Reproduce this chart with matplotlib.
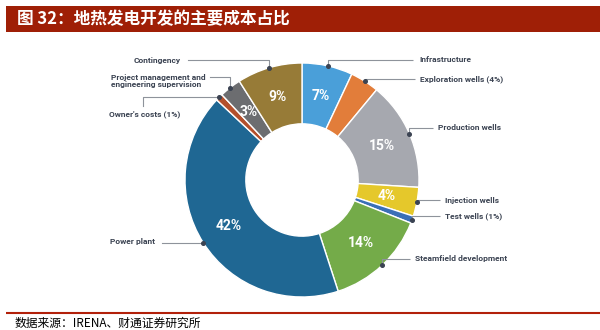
import numpy as np
import matplotlib
matplotlib.use("Agg")
import matplotlib.pyplot as plt
from matplotlib.patches import Rectangle

# ---- data ----
categories = ["Infrastructure", "Exploration wells (4%)", "Production wells",
              "Injection wells", "Test wells (1%)", "Steamfield development",
              "Power plant", "Owner's costs (1%)",
              "Project management and\nengineering supervision", "Contingency"]
shares = [7, 4, 15, 4, 1, 14, 42, 1, 3, 9]
show_pct = [True, False, True, True, False, True, True, False, True, True]
colors = ["#4A9FD9", "#E27D3A", "#A6A8AF", "#E5C82B", "#3A6FB6", "#74AB49",
          "#1F6793", "#B4502C", "#6C6D70", "#977B37"]
title = "图 32：地热发电开发的主要成本占比"
source = "数据来源：IRENA、财通证券研究所"

W, H = 600, 330
fig = plt.figure(figsize=(W / 100, H / 100), dpi=100)
fig.patch.set_facecolor("white")

# pie axes placed in pixel terms
cx, cy, R = 302, 180, 117
ax = fig.add_axes([(cx - R) / W, (H - cy - R) / H, 2 * R / W, 2 * R / H])
wedges, _, autotexts = ax.pie(
    shares, colors=colors, startangle=90, counterclock=False,
    radius=1.0, wedgeprops=dict(width=0.52, edgecolor="white", linewidth=1.0),
    autopct=lambda p: f"{p:.0f}%", pctdistance=0.74)
for t, s in zip(autotexts, show_pct):
    t.set_color("white")
    t.set_fontsize(10)
    t.set_fontweight("bold")
    t.set_fontfamily(["Roboto", "DejaVu Sans"])
    t.set_visible(s)
ax.set_xlim(-1, 1)
ax.set_ylim(-1, 1)
ax.set_aspect("equal")
ax.axis("off")

# overlay axes in pixel coordinates (y downward)
ov = fig.add_axes([0, 0, 1, 1], zorder=5)
ov.set_xlim(0, W)
ov.set_ylim(H, 0)
ov.axis("off")
ov.patch.set_alpha(0)

fig.canvas.draw()

def dot_px(i):
    w = wedges[i]
    ang = np.deg2rad((w.theta1 + w.theta2) / 2)
    p = ax.transData.transform((np.cos(ang), np.sin(ang)))
    return ov.transData.inverted().transform(p)

lc = "#8E939B"
dc = "#3B4352"
tc = "#3B4352"
fs = 6.0
ff = ["Roboto", "DejaVu Sans"]

def lbl(x, y, s, ha="left", va="center"):
    ov.text(x, y, s, ha=ha, va=va, fontsize=fs, color=tc, fontweight="bold",
            fontfamily=ff, linespacing=1.0)

# right-hand labels: (index, label y, line end x, text x)
right = [(0, 60, 413, 419), (1, 79, 415, 420), (2, 128, 433, 438),
         (3, 200, 440, 445), (4, 216, 440, 445), (5, 259, 410, 415)]
for i, ly, lx, tx in right:
    dx, dy = dot_px(i)
    ov.plot([dx, dx, lx], [dy, ly, ly], color=lc, lw=0.8, solid_capstyle="butt")
    ov.plot(dx, dy, "o", ms=2.6, color=dc)
    lbl(tx, ly, categories[i])

# Power plant
dx, dy = dot_px(6)
ov.plot([162, dx], [dy, dy], color=lc, lw=0.8)
ov.plot(dx, dy, "o", ms=2.6, color=dc)
lbl(155, dy - 1, categories[6], ha="right")

# Owner's costs
dx, dy = dot_px(7)
ov.plot([143, 143, dx], [106, dy, dy], color=lc, lw=0.8)
ov.plot(dx, dy, "o", ms=2.6, color=dc)
lbl(180, 114, categories[7], ha="right")

# Project management
dx, dy = dot_px(8)
ov.plot([210, dx, dx], [77, 77, dy], color=lc, lw=0.8)
ov.plot(dx, dy, "o", ms=2.6, color=dc)
lbl(111, 81, categories[8], ha="left")

# Contingency
dx, dy = dot_px(9)
ov.plot([188, dx, dx], [60, 60, dy], color=lc, lw=0.8)
ov.plot(dx, dy, "o", ms=2.6, color=dc)
lbl(181, 60, categories[9], ha="right")

# title bar
ov.add_patch(Rectangle((6, 5.5), W - 6, 26.5, facecolor="#9F1F06",
                       edgecolor="none"))
ov.text(17, 19, title, ha="left", va="center", fontsize=12, color="white",
        fontweight="bold", fontfamily=["Noto Sans CJK SC", "DejaVu Sans"])

# bottom rule and source
ov.plot([6, W], [312.5, 312.5], color="#B2200A", lw=1.5, solid_capstyle="butt")
ov.text(15, 323, source, ha="left", va="center", fontsize=8.5, color="black",
        fontfamily=["Noto Sans CJK SC", "DejaVu Sans"])

fig.savefig("out.png", dpi=100, facecolor="white")
